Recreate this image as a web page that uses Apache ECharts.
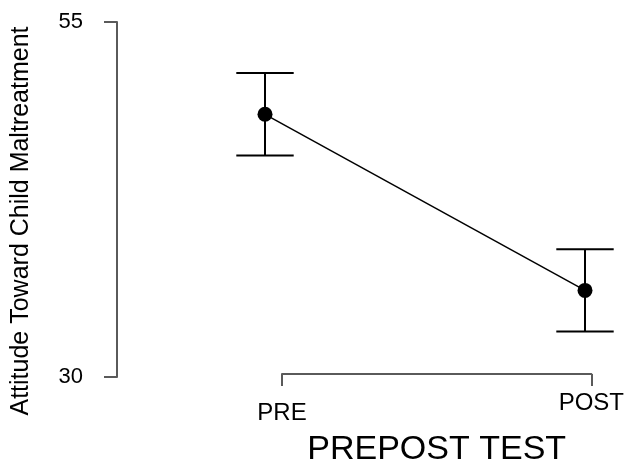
<!DOCTYPE html>
<html>
<head>
<meta charset="utf-8">
<script src="https://cdn.jsdelivr.net/npm/echarts@6/dist/echarts.min.js"></script>
<style>
html,body{margin:0;padding:0;background:#fff;}
#chart{width:627px;height:472px;}
</style>
</head>
<body>
<div id="chart"></div>
<script>
// Data
var categories = ['PRE', 'POST'];
var means = [48.5, 36.1];
var lowerCI = [45.6, 33.2];
var upperCI = [51.4, 39.0];
var yTicks = [30, 55];
var xTitle = 'PREPOST TEST';
var yTitle = 'Attitude Toward Child Maltreatment';

var FONT = 'Liberation Sans, Arial, sans-serif';
var AXIS_COLOR = '#5a5a5a';

var errData = categories.map(function (c, i) { return [i, lowerCI[i], upperCI[i]]; });

var chart = echarts.init(document.getElementById('chart'), null, {renderer: 'canvas'});
chart.setOption({
  animation: false,
  backgroundColor: '#ffffff',
  textStyle: {fontFamily: FONT},
  grid: [
    {left: 265, width: 320, top: 22, height: 355},
    {left: 282, width: 312, top: 22, height: 360}
  ],
  xAxis: [
    {gridIndex: 0, type: 'category', data: categories, boundaryGap: false, show: false},
    {
      gridIndex: 1, type: 'category', data: categories, boundaryGap: false,
      axisLine: {show: true, lineStyle: {color: AXIS_COLOR, width: 2}},
      axisTick: {show: true, length: 12, inside: false, lineStyle: {color: AXIS_COLOR, width: 2}},
      axisLabel: {
        margin: 17, color: '#000', fontSize: 24, fontFamily: FONT,
        formatter: function (v) { return v === 'PRE' ? '{pre|' + v + '}' : '{post|' + v + '}'; },
        rich: {
          pre: {fontSize: 24, fontFamily: FONT, color: '#000', padding: [10, 0, 0, 0]},
          post: {fontSize: 24, fontFamily: FONT, color: '#000'}
        }
      },
      splitLine: {show: false},
      name: xTitle, nameLocation: 'middle', nameGap: 59,
      nameTextStyle: {fontSize: 34, color: '#000', fontFamily: FONT}
    }
  ],
  yAxis: [
    {
      gridIndex: 0, type: 'value', min: 30, max: 55, offset: 148,
      axisLine: {show: true, lineStyle: {color: AXIS_COLOR, width: 2}},
      axisTick: {show: true, length: 13, customValues: yTicks, lineStyle: {color: AXIS_COLOR, width: 2}},
      axisLabel: {show: true, customValues: yTicks, margin: 34, fontSize: 22, color: '#000', fontFamily: FONT},
      splitLine: {show: false}
    },
    {gridIndex: 1, type: 'value', min: 30, max: 55, show: false}
  ],
  graphic: [{
    type: 'text', x: 21, y: 221, rotation: Math.PI / 2,
    style: {text: yTitle, fontSize: 25, fontFamily: FONT, fill: '#000', align: 'center', verticalAlign: 'middle'}
  }],
  series: [
    {
      type: 'custom', xAxisIndex: 0, yAxisIndex: 0, z: 2,
      data: errData,
      renderItem: function (params, api) {
        var x = api.value(0);
        var lo = api.coord([x, api.value(1)]);
        var hi = api.coord([x, api.value(2)]);
        var hw = 28.7;
        var st = {stroke: '#000', lineWidth: 2, fill: null};
        return {
          type: 'group',
          children: [
            {type: 'line', shape: {x1: lo[0], y1: lo[1], x2: hi[0], y2: hi[1]}, style: st},
            {type: 'line', shape: {x1: hi[0] - hw, y1: hi[1], x2: hi[0] + hw, y2: hi[1]}, style: st},
            {type: 'line', shape: {x1: lo[0] - hw, y1: lo[1], x2: lo[0] + hw, y2: lo[1]}, style: st}
          ]
        };
      }
    },
    {
      type: 'line', xAxisIndex: 0, yAxisIndex: 0, z: 3,
      data: means,
      symbol: 'circle', symbolSize: 15,
      itemStyle: {color: '#000'},
      lineStyle: {color: '#000', width: 1.5}
    }
  ]
});
</script>
</body>
</html>
